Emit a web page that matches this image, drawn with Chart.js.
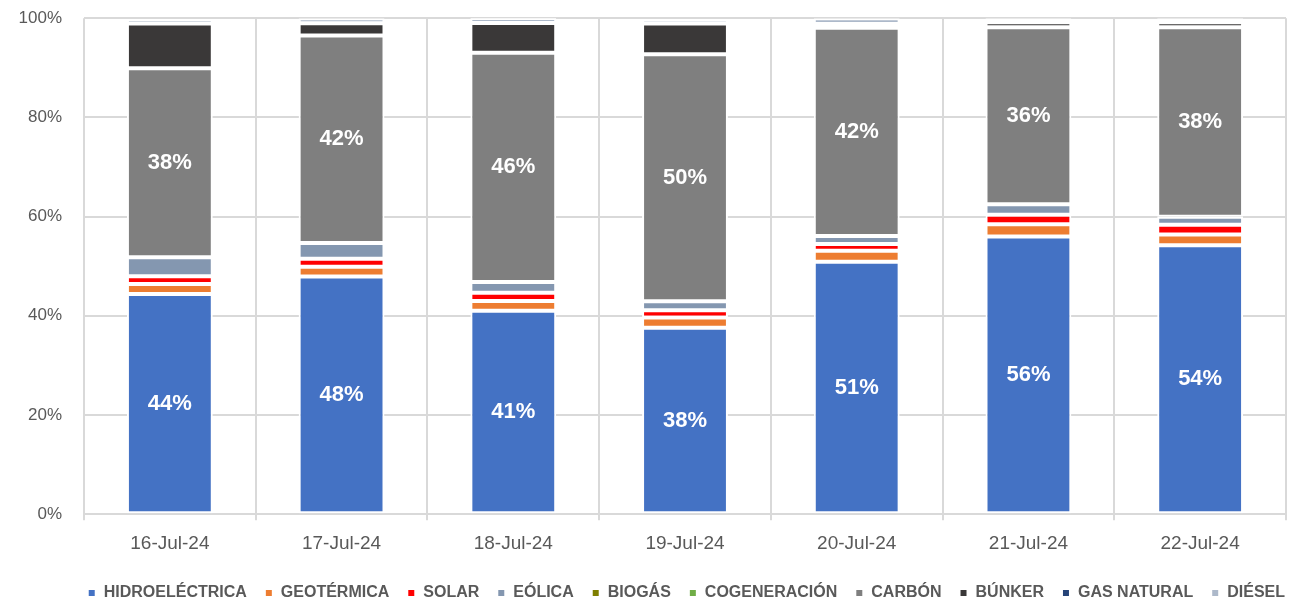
<!DOCTYPE html>
<html>
<head>
<meta charset="utf-8">
<script src="https://cdn.jsdelivr.net/npm/chart.js@4/dist/chart.umd.min.js"></script>
<style>
  html, body { margin: 0; padding: 0; background: #fff; }
  #wrap { width: 1292px; height: 607px; overflow: hidden; position: relative; }
  #box { position: absolute; left: 0; top: -14px; width: 1292px; height: 621px; }
</style>
</head>
<body>
<div id="wrap"><div id="box"><canvas id="c"></canvas></div></div>
<script>
// fechas
const dias = ['16-Jul-24', '17-Jul-24', '18-Jul-24', '19-Jul-24', '20-Jul-24', '21-Jul-24', '22-Jul-24'];

// % de generacion por fuente
const hidro      = [44.4, 47.9, 41.0, 37.6, 50.9, 56.0, 54.2];
const geotermica = [2.0, 2.0, 2.0, 2.07, 2.24, 2.44, 2.17];
const solar      = [1.55, 1.6, 1.67, 1.45, 1.35, 1.95, 2.0];
const eolica     = [3.85, 3.2, 2.15, 1.8, 1.6, 2.1, 1.6];
const biogas     = [0, 0, 0, 0, 0, 0, 0];
const cogen      = [0, 0, 0, 0, 0, 0, 0];
const carbon     = [38.1, 41.8, 46.2, 49.8, 42.0, 35.7, 38.2];
const bunker     = [9.05, 2.5, 6.0, 6.2, 0.75, 1.0, 1.0];
const gasNatural = [0, 0, 0, 0, 0, 0, 0];
const diesel     = [0.9, 1.0, 1.0, 0.85, 1.15, 0.8, 0.8];

const yTicks = [0, 20, 40, 60, 80, 100];

const series = [
  ['HIDROELÉCTRICA', hidro, '#4472C4'],
  ['GEOTÉRMICA', geotermica, '#ED7D31'],
  ['SOLAR', solar, '#FF0000'],
  ['EÓLICA', eolica, '#8497B0'],
  ['BIOGÁS', biogas, '#7F7F00'],
  ['COGENERACIÓN', cogen, '#70AD47'],
  ['CARBÓN', carbon, '#7F7F7F'],
  ['BÚNKER', bunker, '#3A3838'],
  ['GAS NATURAL', gasNatural, '#264478'],
  ['DIÉSEL', diesel, '#ADB9CA']
];

const fuente = "'Liberation Sans', Arial, sans-serif";
const grisTexto = '#595959';
const grisGrid = '#D9D9D9';

// etiquetas blancas dentro de hidro y carbon
const etiquetas = {
  id: 'etiquetas',
  afterLayout(chart) {
    // leyenda un poco mas a la derecha, como en excel
    chart.legend.left += 17;
    chart.legend.right += 17;
  },
  afterDatasetsDraw(chart) {
    const ctx = chart.ctx;
    ctx.save();
    ctx.fillStyle = '#fff';
    ctx.font = 'bold 22px ' + fuente;
    ctx.textAlign = 'center';
    ctx.textBaseline = 'middle';
    [0, 6].forEach(i => {
      const meta = chart.getDatasetMeta(i);
      meta.data.forEach((bar, j) => {
        const v = chart.data.datasets[i].data[j];
        ctx.fillText(Math.round(v) + '%', bar.x, (bar.y + bar.base) / 2);
      });
    });
    ctx.restore();
  }
};

new Chart(document.getElementById('c'), {
  type: 'bar',
  data: {
    labels: dias,
    datasets: series.map(s => ({
      label: s[0],
      data: s[1],
      backgroundColor: s[2],
      borderColor: '#ffffff',
      borderWidth: 2,
      borderSkipped: false,
      barPercentage: 0.5,
      categoryPercentage: 1
    }))
  },
  options: {
    responsive: true,
    maintainAspectRatio: false,
    animation: false,
    layout: { padding: { top: 0, right: 6, left: 0, bottom: -4 } },
    plugins: {
      tooltip: { enabled: false },
      legend: {
        position: 'bottom',
        align: 'end',
        labels: {
          color: grisTexto,
          font: { family: fuente, size: 16, weight: 'bold' },
          boxWidth: 8,
          boxHeight: 8,
          padding: 18
        }
      }
    },
    scales: {
      x: {
        stacked: true,
        grid: { offset: true, color: grisGrid, lineWidth: 2, tickLength: 6, drawTicks: true },
        border: { display: false },
        ticks: { color: grisTexto, font: { family: fuente, size: 19 }, padding: 12 }
      },
      y: {
        stacked: true,
        min: 0,
        max: 100,
        afterFit(scale) { scale.width = 84; },
        afterBuildTicks(scale) { scale.ticks = yTicks.map(v => ({ value: v })); },
        grid: { color: grisGrid, lineWidth: 2, drawTicks: false },
        border: { display: false },
        ticks: {
          color: grisTexto,
          font: { family: fuente, size: 17 },
          padding: 22,
          callback: v => v + '%'
        }
      }
    }
  },
  plugins: [etiquetas]
});
</script>
</body>
</html>
